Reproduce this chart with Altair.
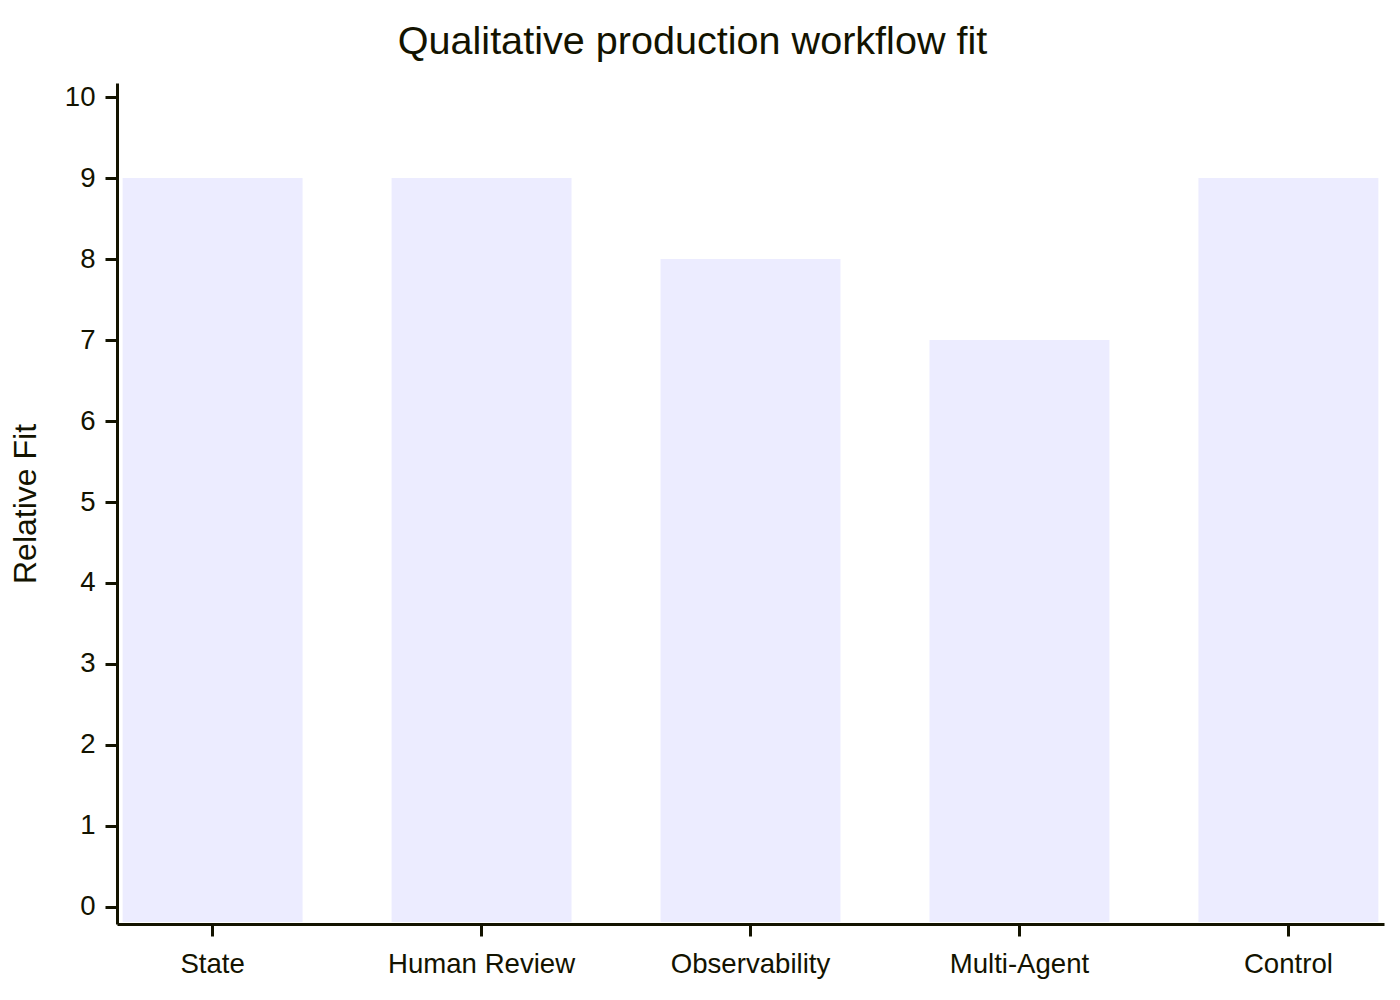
import altair as alt
import pandas as pd

categories = ["State", "Human Review", "Observability", "Multi-Agent", "Control"]
values = [9, 9, 8, 7, 9]
y_ticks = [0, 1, 2, 3, 4, 5, 6, 7, 8, 9, 10]

df = pd.DataFrame({"category": categories, "value": values})

INK = "#131300"
FONT = "Liberation Sans"
W, H = 1267, 841

bars = alt.Chart(df).mark_bar(color="#ECECFF").encode(
    x=alt.X(
        "category:N",
        sort=categories,
        scale=alt.Scale(paddingInner=0.331, paddingOuter=0.021),
        axis=alt.Axis(
            title=None,
            labelAngle=0,
            labelFontSize=27.6,
            labelFont=FONT,
            labelColor=INK,
            labelPadding=14,
            labelLimit=0,
            tickSize=12,
            tickWidth=3,
            tickColor=INK,
            domainWidth=3,
            domainColor=INK,
            grid=False,
            zindex=1,
        ),
    ),
    y=alt.Y(
        "value:Q",
        stack=None,
        scale=alt.Scale(domain=[-0.21, 10.173], nice=False, zero=False),
        axis=alt.Axis(
            title="Relative Fit",
            titleFont=FONT,
            titleFontSize=32,
            titleFontWeight="normal",
            titleColor=INK,
            titleAngle=-90,
            titleX=-92,
            titleY=H / 2,
            titleBaseline="middle",
            titleAlign="center",
            values=y_ticks,
            labelFontSize=27.6,
            labelFont=FONT,
            labelColor=INK,
            labelPadding=10,
            tickSize=12,
            tickWidth=3,
            tickColor=INK,
            domainWidth=3,
            domainColor=INK,
            grid=False,
            zindex=1,
        ),
    ),
    y2=alt.value(H - 2),
)

chart = bars.properties(
    width=W,
    height=H,
    title=alt.TitleParams(
        "Qualitative production workflow fit",
        font=FONT,
        fontSize=39.6,
        fontWeight="normal",
        color=INK,
        anchor="middle",
        frame="group",
        dx=-58,
        dy=42,
        baseline="alphabetic",
        offset=31,
    ),
    autosize=alt.AutoSizeParams(type="none"),
    padding={"left": 109, "top": 75, "right": 8, "bottom": 68},
).configure(background="white", view=alt.ViewConfig(stroke=None))

chart.save("out.html", embed_options={"renderer": "svg", "actions": False})
